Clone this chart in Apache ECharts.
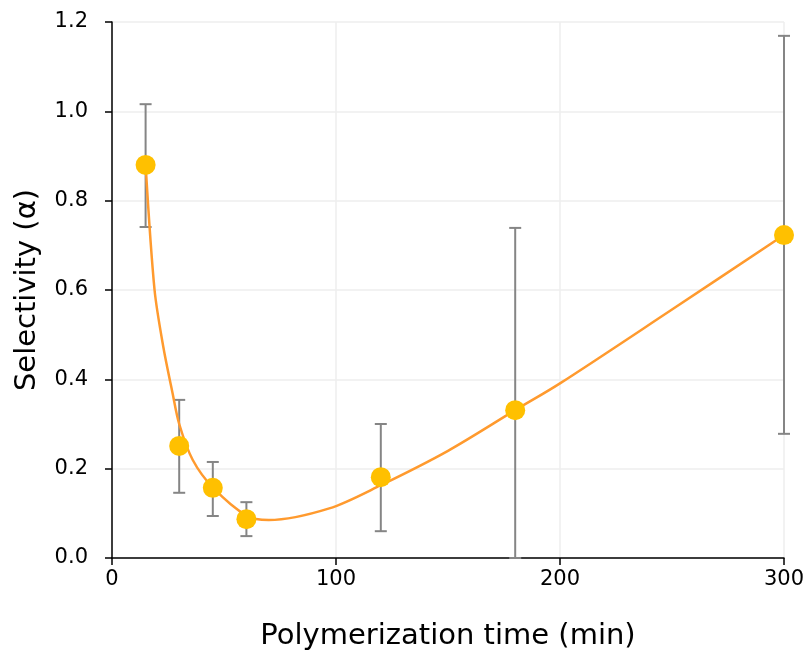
<!DOCTYPE html>
<html>
<head>
<meta charset="UTF-8">
<title>Selectivity</title>
<script src="https://cdn.jsdelivr.net/npm/echarts@6/dist/echarts.min.js"></script>
<style>
  * {margin: 0; padding: 0;}
  html, body {background: #fff;}
  #chart {width: 807px; height: 657px;}
</style>
</head>
<body>
<div id="chart"></div>
<script type="text/javascript">
// measured points
var times = [15, 30, 45, 60, 120, 180, 300];
var selectivity = [0.88, 0.251, 0.157, 0.087, 0.181, 0.331, 0.723];
var errLow = [0.741, 0.146, 0.094, 0.049, 0.06, 0.0, 0.278];
var errHigh = [1.016, 0.354, 0.215, 0.125, 0.3, 0.739, 1.169];

// smoothed trend curve
var trendX = [15, 19, 23, 27, 30, 36, 45, 60, 70, 97, 120, 150, 180, 200, 249, 300];
var trendY = [0.88, 0.60, 0.47, 0.37, 0.30, 0.22, 0.158, 0.095, 0.085, 0.111, 0.163, 0.24, 0.331, 0.391, 0.553, 0.723];

var yTicks = [0, 0.2, 0.4, 0.6, 0.8, 1.0, 1.2];
var xTicks = [0, 100, 200, 300];

var chart = echarts.init(document.getElementById('chart'));

var points = times.map(function (t, i) { return [t, selectivity[i]]; });
var errData = times.map(function (t, i) { return [t, errLow[i], errHigh[i]]; });
var trend = trendX.map(function (t, i) { return [t, trendY[i]]; });

var font = 'DejaVu Sans, sans-serif';

var option = {
  animation: false,
  grid: {left: 112, right: 23, top: 22, bottom: 99, outerBoundsMode: 'none'},
  xAxis: {
    type: 'value',
    min: xTicks[0],
    max: xTicks[xTicks.length - 1],
    interval: 100,
    name: 'Polymerization time (min)',
    nameLocation: 'middle',
    nameGap: 64,
    nameTextStyle: {fontFamily: font, fontSize: 29, color: '#000'},
    axisLine: {lineStyle: {color: '#000', width: 1.5}},
    axisTick: {show: true, length: 7, lineStyle: {color: '#000', width: 1.5}},
    axisLabel: {fontFamily: font, fontSize: 21, color: '#000', margin: 11},
    splitLine: {show: true, lineStyle: {color: '#eeeeee', width: 1.5}}
  },
  yAxis: {
    type: 'value',
    min: yTicks[0],
    max: yTicks[yTicks.length - 1],
    interval: 0.2,
    name: 'Selectivity (\u03b1)',
    nameLocation: 'middle',
    nameGap: 70,
    nameTextStyle: {fontFamily: font, fontSize: 29, color: '#000'},
    axisLine: {show: true, lineStyle: {color: '#000', width: 1.5}},
    axisTick: {show: true, length: 7, lineStyle: {color: '#000', width: 1.5}},
    axisLabel: {
      fontFamily: font, fontSize: 21, color: '#000', margin: 24,
      formatter: function (v) { return v.toFixed(1); }
    },
    splitLine: {show: true, lineStyle: {color: '#eeeeee', width: 1.5}}
  },
  series: [
    {
      name: 'error',
      type: 'custom',
      clip: false,
      z: 2,
      data: errData,
      renderItem: function (params, api) {
        var x = api.value(0);
        var lo = api.coord([x, api.value(1)]);
        var hi = api.coord([x, api.value(2)]);
        var w = 6;
        var st = {stroke: '#858585', lineWidth: 2};
        return {
          type: 'group',
          children: [
            {type: 'line', shape: {x1: lo[0], y1: lo[1], x2: hi[0], y2: hi[1]}, style: st},
            {type: 'line', shape: {x1: lo[0] - w, y1: lo[1], x2: lo[0] + w, y2: lo[1]}, style: st},
            {type: 'line', shape: {x1: hi[0] - w, y1: hi[1], x2: hi[0] + w, y2: hi[1]}, style: st}
          ]
        };
      }
    },
    {
      name: 'trend',
      type: 'line',
      z: 3,
      data: trend,
      smooth: 0.3,
      showSymbol: false,
      lineStyle: {color: '#FF9A2E', width: 2.5}
    },
    {
      name: 'selectivity',
      type: 'scatter',
      z: 4,
      clip: false,
      data: points,
      symbolSize: 20,
      itemStyle: {color: '#FFC000', opacity: 1}
    }
  ]
};

chart.setOption(option);
</script>
</body>
</html>
